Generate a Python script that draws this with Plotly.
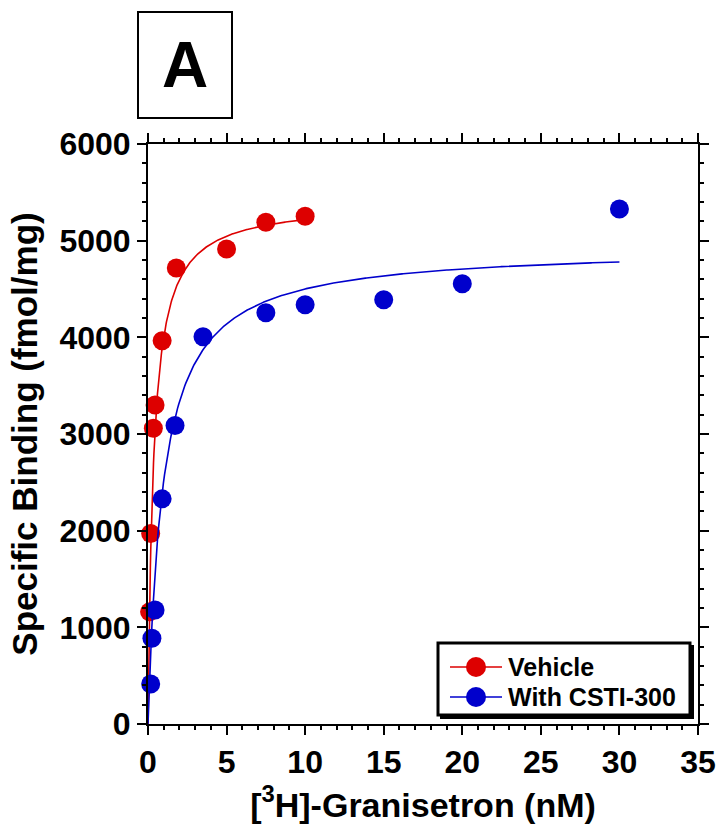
import plotly.graph_objects as go
import numpy as np

# ---- data ----
veh_x = [0.1, 0.17, 0.34, 0.45, 0.9, 1.8, 5.0, 7.5, 10.0]
veh_y = [1160, 1970, 3060, 3300, 3965, 4717, 4914, 5190, 5252]
csti_x = [0.17, 0.25, 0.45, 0.9, 1.72, 3.5, 7.5, 10.0, 15.0, 20.0, 30.0]
csti_y = [414, 887, 1180, 2329, 3088, 4006, 4255, 4337, 4389, 4555, 5328]

# one-site binding fit parameters
veh_bmax, veh_kd, veh_xmax = 5400, 0.35, 10.0
csti_bmax, csti_kd, csti_xmax = 4933, 0.96, 30.0

series_names = ["Vehicle", "With CSTI-300"]
red = "#DD0000"
blue = "#0000CC"
colors = [red, blue]

x_ticks = [0, 5, 10, 15, 20, 25, 30, 35]
y_ticks = [0, 1000, 2000, 3000, 4000, 5000, 6000]

FONT = "Liberation Sans, Arial, sans-serif"

# plot-area geometry in pixels (for paper-coordinate conversion of decorations)
W, H = 718, 832
ML, MR, MT, MB = 148, 20, 144, 108
PW, PH = W - ML - MR, H - MT - MB

def px(x):
    return (x - ML) / PW

def py(y):
    return (H - MB - y) / PH

def fit(bmax, kd, xmax):
    xs = np.linspace(0, xmax, 400)
    return xs, bmax * xs / (kd + xs)

fig = go.Figure()

fx, fy = fit(veh_bmax, veh_kd, veh_xmax)
fig.add_trace(go.Scatter(x=fx, y=fy, mode="lines", line=dict(color=red, width=1.6),
                         showlegend=False, hoverinfo="skip", cliponaxis=False))
fig.add_trace(go.Scatter(x=veh_x, y=veh_y, mode="markers", name=series_names[0],
                         marker=dict(color=red, size=19), showlegend=False, cliponaxis=False))
fx, fy = fit(csti_bmax, csti_kd, csti_xmax)
fig.add_trace(go.Scatter(x=fx, y=fy, mode="lines", line=dict(color=blue, width=1.6),
                         showlegend=False, hoverinfo="skip", cliponaxis=False))
fig.add_trace(go.Scatter(x=csti_x, y=csti_y, mode="markers", name=series_names[1],
                         marker=dict(color=blue, size=19), showlegend=False, cliponaxis=False))

axis_common = dict(
    showline=True, linecolor="black", linewidth=2, mirror="allticks",
    ticks="outside", tickcolor="black", tickwidth=2, ticklen=9,
    showgrid=False, zeroline=False,
    tickfont=dict(family=FONT, size=32, color="black", weight="bold"),
)

fig.update_xaxes(range=[0, 35], tickvals=x_ticks, ticktext=[str(v) for v in x_ticks],
                 minor=dict(dtick=1, ticks="outside", ticklen=4, tickwidth=1.5, tickcolor="black"),
                 title=dict(text="[<sup>3</sup>H]-Granisetron (nM)",
                            font=dict(family=FONT, size=34, color="black", weight="bold"),
                            standoff=11),
                 **axis_common)
fig.update_yaxes(range=[0, 6000], tickvals=y_ticks, ticktext=[str(v) for v in y_ticks],
                 minor=dict(dtick=200, ticks="outside", ticklen=4, tickwidth=1.5, tickcolor="black"),
                 title=dict(text="Specific Binding (fmol/mg)",
                            font=dict(family=FONT, size=35, color="black", weight="bold"),
                            standoff=11),
                 **axis_common)

# ---- manual legend (box with drop shadow) ----
shapes = []
annotations = []
bx0, bx1, by0, by1 = 438, 690, 643, 715
sh = 3
shapes.append(dict(type="rect", xref="paper", yref="paper", layer="above",
                   x0=px(bx0 + sh), x1=px(bx1 + sh), y0=py(by1 + sh), y1=py(by0 + sh),
                   fillcolor="black", line=dict(color="black", width=2)))
shapes.append(dict(type="rect", xref="paper", yref="paper", layer="above",
                   x0=px(bx0), x1=px(bx1), y0=py(by1), y1=py(by0),
                   fillcolor="white", line=dict(color="black", width=3)))
row_y = [667, 697]
for name, col, ry in zip(series_names, colors, row_y):
    shapes.append(dict(type="line", xref="paper", yref="paper", layer="above",
                       x0=px(450), x1=px(502), y0=py(ry), y1=py(ry),
                       line=dict(color=col, width=1.6)))
    shapes.append(dict(type="circle", xref="paper", yref="paper", layer="above",
                       xsizemode="pixel", ysizemode="pixel",
                       xanchor=px(476), yanchor=py(ry), x0=-10, x1=10, y0=-10, y1=10,
                       fillcolor=col, line=dict(color=col, width=0)))
    annotations.append(dict(text=name, x=px(506), y=py(ry), xref="paper", yref="paper",
                            xanchor="left", yanchor="middle", showarrow=False,
                            font=dict(family=FONT, size=25, color="black", weight="bold")))

# ---- panel letter ----
annotations.append(dict(text="A", x=px(185), y=py(65), xref="paper", yref="paper",
                        xanchor="center", yanchor="middle", showarrow=False,
                        font=dict(family=FONT, size=64, color="black", weight="bold"),
                        bordercolor="black", borderwidth=2, borderpad=0,
                        width=92, height=104, bgcolor="white"))

fig.update_layout(
    width=W, height=H,
    margin=dict(l=ML, r=MR, t=MT, b=MB, autoexpand=False),
    paper_bgcolor="white", plot_bgcolor="white",
    showlegend=False,
    shapes=shapes,
    annotations=annotations,
)

fig.write_html("out.html")
